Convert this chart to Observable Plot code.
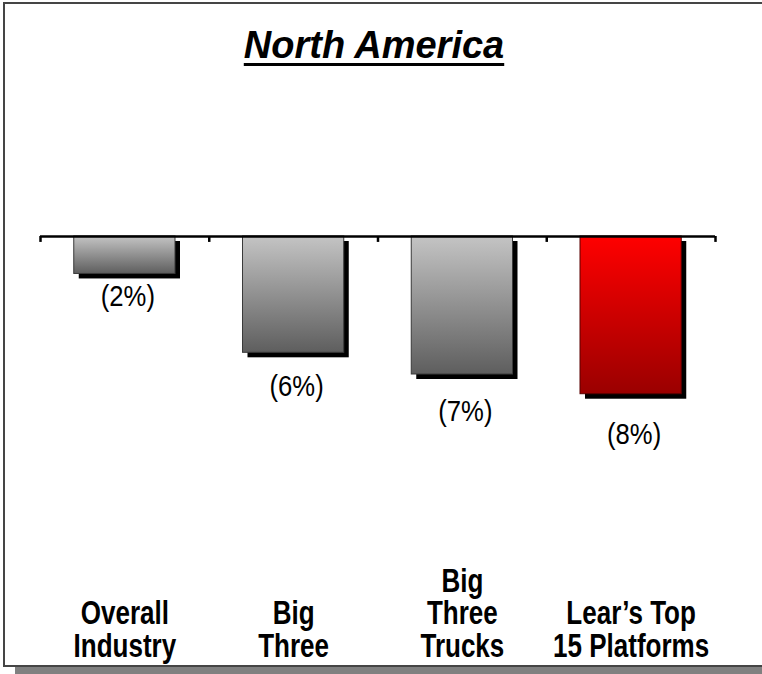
<!DOCTYPE html>
<html>
<head>
<meta charset="utf-8">
<script src="https://cdn.jsdelivr.net/npm/d3@7"></script>
<script src="https://cdn.jsdelivr.net/npm/@observablehq/plot@0.6"></script>
<style>
  html, body { margin: 0; padding: 0; background: #fff; overflow: hidden; }
  #wrap { position: relative; width: 762px; height: 674px; }
  #frame { position: absolute; left: 3px; top: 2px; width: 770px; height: 661px;
           border: 2px solid #454545; box-shadow: 12px 8px 0 #808080; background: #fff; }
  #title { position: absolute; left: 0; top: 27px; width: 748px; text-align: center;
           font-family: "Liberation Sans", Arial, sans-serif; font-weight: bold; font-style: italic;
           font-size: 38px; line-height: 37px; text-decoration: underline; text-decoration-thickness: 3px;
           text-underline-offset: 5px; color: #000; z-index: 2; }
  #chart { position: absolute; left: 0; top: 0; z-index: 1; }
</style>
</head>
<body>
<div id="wrap">
  <div id="frame"></div>
  <div id="title">North America</div>
  <div id="chart"></div>
</div>
<script>
const categories = ["Overall\nIndustry", "Big\nThree", "Big\nThree\nTrucks", "Lear’s Top\n15 Platforms"];
const values = [-1.9, -5.9, -7.0, -8.0];
const valueLabels = ["(2%)", "(6%)", "(7%)", "(8%)"];
const highlight = [false, false, false, true];

const data = categories.map((c, i) => ({i, category: c, value: values[i], label: valueLabels[i], red: highlight[i]}));

const barX1 = d => d.i + 0.2;
const barX2 = d => d.i + 0.8;

const svg = Plot.plot({
  width: 762,
  height: 674,
  marginLeft: 40,
  marginRight: 47,
  marginTop: 98,
  marginBottom: 24,
  x: {domain: [0, 4], axis: null},
  y: {domain: [-21, 7], axis: null},
  style: {background: "transparent", fontFamily: "'Liberation Sans', Arial, sans-serif", color: "#000"},
  marks: [
    Plot.rect(data, {x1: barX1, x2: barX2, y1: 0, y2: "value", fill: "#000", dx: 5, dy: 5}),
    Plot.rect(data.filter(d => !d.red), {x1: barX1, x2: barX2, y1: 0, y2: "value", fill: "url(#gGray)", stroke: "#3a3a3a", strokeWidth: 1}),
    Plot.rect(data.filter(d => d.red), {x1: barX1, x2: barX2, y1: 0, y2: "value", fill: "url(#gRed)", stroke: "#5a0000", strokeWidth: 1}),
    Plot.ruleY([0], {x1: 0, x2: 4, stroke: "#000", strokeWidth: 2.5}),
    Plot.ruleX([0, 1, 2, 3, 4], {y1: 0, y2: -0.3, stroke: "#000", strokeWidth: 2.5}),
    Plot.text(data, {x: d => d.i + 0.5, y: d => d.value * 1.14 - 0.9, text: "label", fontSize: 27, dx: 3, fill: "#000"}),
    Plot.text(data, {x: d => d.i + 0.5, text: "category", frameAnchor: "bottom", lineAnchor: "bottom",
                     dy: 6, fontSize: 26, fontWeight: "bold", lineHeight: 0.985, fill: "#000"})
  ]
});

svg.insertAdjacentHTML("afterbegin", `
<defs>
  <linearGradient id="gGray" x1="0" y1="0" x2="0" y2="1">
    <stop offset="0" stop-color="#c4c4c4"/>
    <stop offset="1" stop-color="#5e5e5e"/>
  </linearGradient>
  <linearGradient id="gRed" x1="0" y1="0" x2="0" y2="1">
    <stop offset="0" stop-color="#ff0000"/>
    <stop offset="1" stop-color="#9a0000"/>
  </linearGradient>
</defs>`);

// stretch the category labels vertically, as in the original slide
const textGroups = svg.querySelectorAll('g[aria-label="text"]');
const catGroup = textGroups[textGroups.length - 1];
catGroup.querySelectorAll("text").forEach(t => {
  const tr = t.getAttribute("transform") || "";
  t.setAttribute("transform", tr + " scale(1,1.25)");
});
const pctGroup = textGroups[0];
pctGroup.querySelectorAll("text").forEach(t => {
  const tr = t.getAttribute("transform") || "";
  t.setAttribute("transform", tr + " scale(0.95,1.1)");
});

document.getElementById("chart").appendChild(svg);
</script>
</body>
</html>
